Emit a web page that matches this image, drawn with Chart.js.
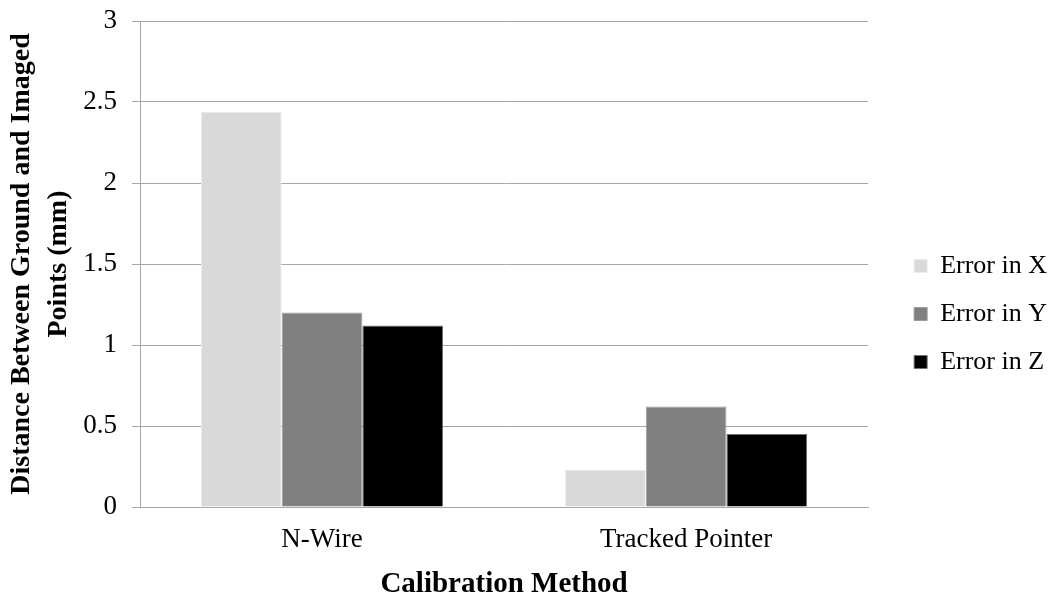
<!DOCTYPE html>
<html>
<head>
<meta charset="utf-8">
<script src="https://cdn.jsdelivr.net/npm/chart.js@4"></script>
<style>
  html, body { margin: 0; padding: 0; background: #fff; }
  #wrap { width: 1057px; height: 599px; }
</style>
</head>
<body>
<div id="wrap"><canvas id="chart"></canvas></div>
<script>
// Data
const methods = ['N-Wire', 'Tracked Pointer'];
const errorX = [2.44, 0.23];
const errorY = [1.20, 0.62];
const errorZ = [1.12, 0.45];
const seriesNames = ['Error in X', 'Error in Y', 'Error in Z'];

const serif = 'Liberation Serif, Times New Roman, serif';
const gridColor = '#a6a6a6';

const ctx = document.getElementById('chart').getContext('2d');

new Chart(ctx, {
    type: 'bar',
    data: {
        labels: methods,
        datasets: [
            { label: seriesNames[0], data: errorX, backgroundColor: '#d9d9d9', borderColor: '#ececec', borderWidth: 1 },
            { label: seriesNames[1], data: errorY, backgroundColor: '#808080', borderColor: '#9a9a9a', borderWidth: 1 },
            { label: seriesNames[2], data: errorZ, backgroundColor: '#000000', borderColor: '#6e6e6e', borderWidth: 1 }
        ]
    },
    options: {
        responsive: true,
        maintainAspectRatio: false,
        animation: false,
        layout: { padding: 0 },
        datasets: {
            bar: { categoryPercentage: 0.665, barPercentage: 1.0 }
        },
        plugins: {
            legend: {
                position: 'right',
                title: {
                    // blank title, only pushes the items down a bit
                    display: true,
                    text: ' ',
                    font: { size: 10, lineHeight: 1 },
                    padding: { top: 0, bottom: 19 }
                },
                labels: {
                    boxWidth: 13,
                    boxHeight: 13,
                    padding: 22,
                    color: '#000',
                    font: { family: serif, size: 26 }
                }
            },
            tooltip: { enabled: false }
        },
        scales: {
            x: {
                grid: { display: false, drawTicks: false },
                border: { display: true, color: gridColor },
                ticks: { color: '#000', padding: 17, font: { family: serif, size: 27 } },
                title: {
                    display: true,
                    text: 'Calibration Method',
                    color: '#000',
                    padding: { top: 0, bottom: 0 },
                    font: { family: serif, size: 29, weight: 'bold', lineHeight: 1 }
                },
                afterFit: (scale) => { scale.height = 92; }
            },
            y: {
                min: 0,
                max: 3,
                ticks: {
                    stepSize: 0.5,
                    color: '#000',
                    padding: 15,
                    font: { family: serif, size: 27 },
                    callback: (v) => String(v)
                },
                grid: { color: gridColor, tickLength: 8 },
                border: { display: true, color: gridColor },
                title: {
                    display: true,
                    text: ['Distance Between Ground and Imaged', 'Points (mm)'],
                    color: '#000',
                    padding: { top: 4, bottom: 0 },
                    font: { family: serif, size: 28, weight: 'bold', lineHeight: 1.3 }
                },
                afterFit: (scale) => {
                    scale.width = 140;
                    scale.paddingTop = 21;
                }
            },
            // empty axis that only keeps a gap between the plot and the legend
            gap: {
                position: 'right',
                display: true,
                grid: { display: false },
                border: { display: false },
                ticks: { display: false },
                afterFit: (scale) => { scale.width = 24; }
            }
        }
    }
});
</script>
</body>
</html>
